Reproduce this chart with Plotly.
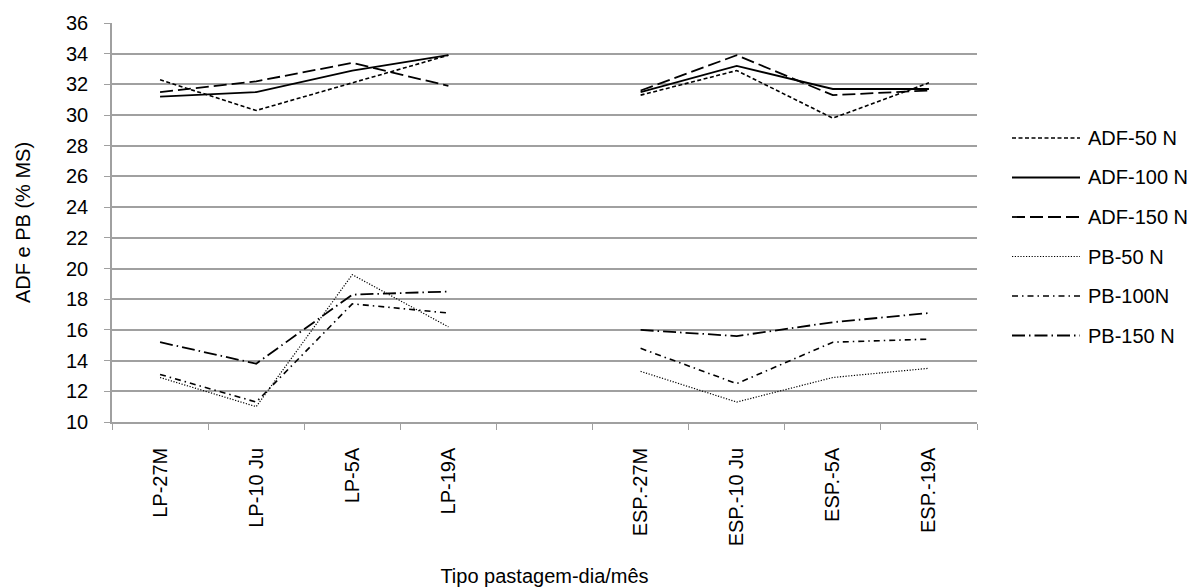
import plotly.graph_objects as go

# Categories (blank slot separates the two pasture types)
categories = ["LP-27M", "LP-10 Ju", "LP-5A", "LP-19A", " ",
              "ESP.-27M", "ESP.-10 Ju", "ESP.-5A", "ESP.-19A"]

adf_50 = [32.3, 30.3, 32.1, 33.9, None, 31.3, 32.9, 29.8, 32.1]
adf_100 = [31.2, 31.5, 32.9, 33.9, None, 31.5, 33.2, 31.7, 31.7]
adf_150 = [31.5, 32.2, 33.4, 31.9, None, 31.6, 33.9, 31.3, 31.6]
pb_50 = [12.9, 11.0, 19.6, 16.2, None, 13.3, 11.3, 12.9, 13.5]
pb_100 = [13.1, 11.3, 17.7, 17.1, None, 14.8, 12.5, 15.2, 15.4]
pb_150 = [15.2, 13.8, 18.3, 18.5, None, 16.0, 15.6, 16.5, 17.1]

series_names = ["ADF-50 N", "ADF-100 N", "ADF-150 N", "PB-50 N", "PB-100N", "PB-150 N"]
series_values = [adf_50, adf_100, adf_150, pb_50, pb_100, pb_150]

y_ticks = list(range(10, 37, 2))

# line styles per series: (dash pattern, width)
styles = [
    ("4px,2.5px", 1.6),
    ("solid", 1.8),
    ("13px,5px", 1.8),
    ("1.2px,1.6px", 1.2),
    ("6px,4px,1.5px,4px", 1.6),
    ("13px,4px,1.5px,4px", 1.8),
]

FONT = "Liberation Sans, Arial, sans-serif"
FS = 20
GRID = "#a0a0a0"

fig = go.Figure()
for name, vals, (dash, w) in zip(series_names, series_values, styles):
    fig.add_trace(go.Scatter(
        x=categories, y=vals, name=name, mode="lines",
        line=dict(color="black", width=w, dash=dash),
        connectgaps=False, showlegend=False,
    ))

# Hand-drawn legend so the line samples are long like the original
L, R, T, B = 112, 218, 23, 165
W, H = 1195, 587
pw, ph = W - L - R, H - T - B
def px_x(p):
    return (p - L) / pw
def px_y(p):
    return (H - B - p) / ph

row0, row_step = 138, 39.5
for i, (name, (dash, w)) in enumerate(zip(series_names, styles)):
    yy = px_y(row0 + i * row_step)
    fig.add_shape(type="line", xref="paper", yref="paper",
                  x0=px_x(1012), x1=px_x(1080), y0=yy, y1=yy,
                  line=dict(color="black", width=w, dash=dash))
    fig.add_annotation(xref="paper", yref="paper", x=px_x(1086), y=yy,
                       text=name, showarrow=False, xanchor="left", yanchor="middle",
                       font=dict(family=FONT, size=FS, color="black"))

fig.update_layout(
    width=W, height=H,
    margin=dict(l=L, r=R, t=T, b=B, autoexpand=False),
    paper_bgcolor="white", plot_bgcolor="white",
    font=dict(family=FONT, size=FS, color="black"),
)
fig.update_xaxes(
    type="category", categoryorder="array", categoryarray=categories,
    range=[-0.5, len(categories) - 0.5], automargin=False,
    tickson="boundaries", ticks="outside", ticklen=6, tickcolor=GRID,
    tickangle=-90, ticklabelstandoff=16,
    showline=True, linecolor=GRID, linewidth=1.5,
    showgrid=False, zeroline=False,
    title=dict(text="Tipo pastagem-dia/mês", font=dict(size=FS), standoff=25),
)
fig.update_yaxes(
    range=[10, 36], tickvals=y_ticks, ticktext=[str(v) for v in y_ticks],
    automargin=False,
    ticks="outside", ticklen=6, tickcolor=GRID, ticklabelstandoff=12,
    showline=True, linecolor=GRID, linewidth=1.5,
    showgrid=True, gridcolor=GRID, gridwidth=1.5, zeroline=False,
    title=dict(text="ADF e PB (% MS)", font=dict(size=FS), standoff=30),
)

fig.write_html("out.html")
